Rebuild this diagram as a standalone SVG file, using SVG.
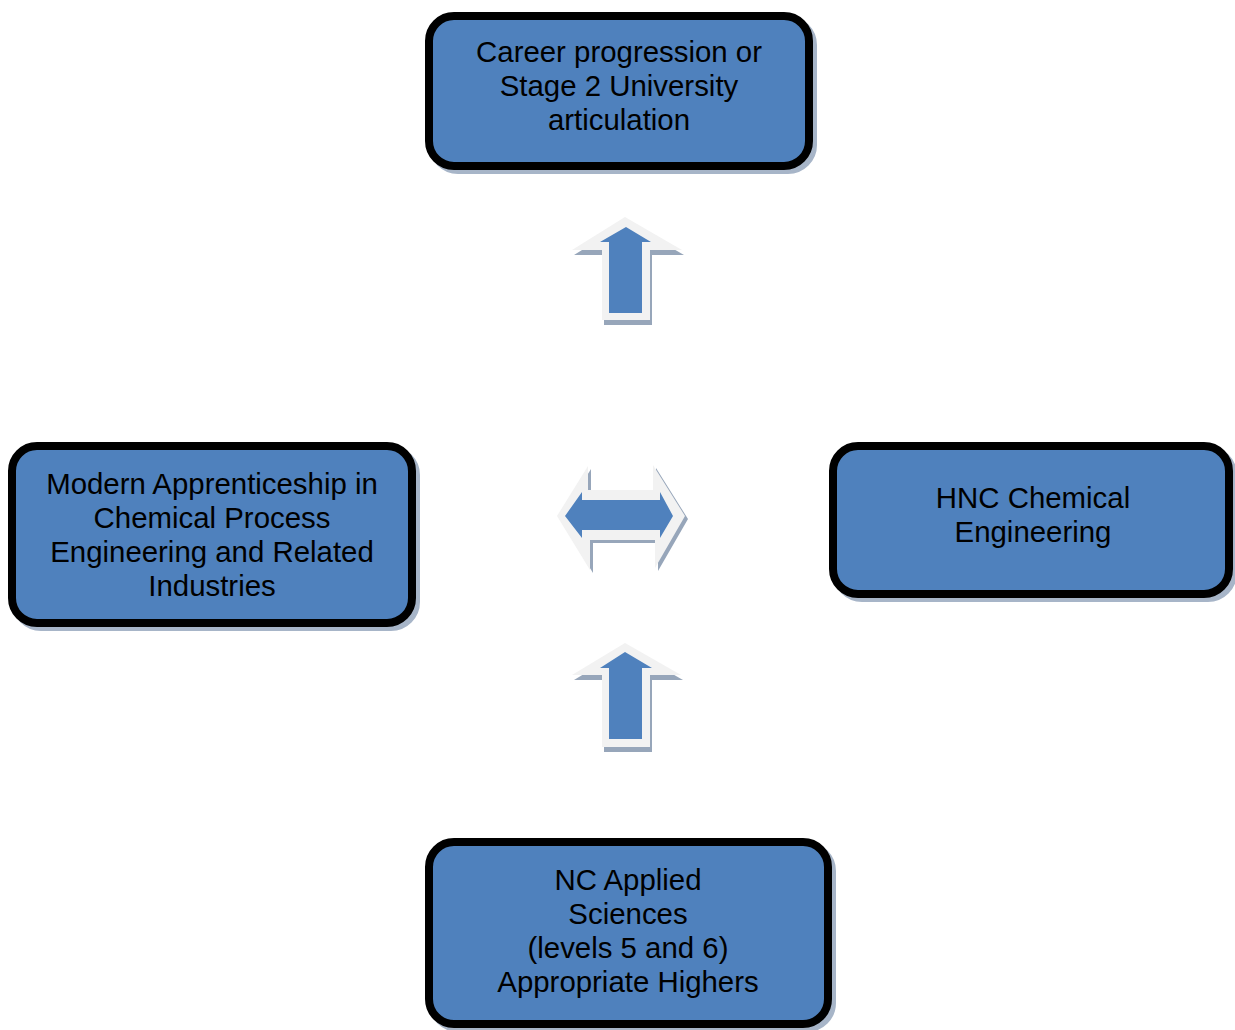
<svg xmlns="http://www.w3.org/2000/svg" width="1235" height="1030" viewBox="0 0 1235 1030">
<style>
.shadow{fill:#A7B5C8;stroke:#A7B5C8;stroke-width:8}
.box{fill:#4F81BD;stroke:#000;stroke-width:8}
.lbl{font-family:"Liberation Sans",Arial,sans-serif;font-size:29.4px;fill:#000;text-anchor:middle}
.ash{fill:#97A6BA}
.aout{fill:#F2F2F2}
.ain{fill:#4F81BD}
</style>
<rect width="1235" height="1030" fill="#fff"/>
<g id="connectors">
  <g id="arrow-up-top">
    <polygon class="ash" transform="translate(2,5)" points="625,217 682,250 650,250 650,320 602,320 602,250 572,250"/>
    <polygon class="aout" points="625,217 682,250 650,250 650,320 602,320 602,250 572,250"/>
    <polygon class="ain" points="626,227 651,242 642,242 642,313 609,313 609,242 600,242"/>
  </g>
  <g id="arrow-both">
    <polygon class="ash" transform="translate(3,3)" points="557,516 588,466 588,490 653,490 653,465 685,516 655,568 655,540 590,540 590,570"/>
    <polygon class="aout" points="557,516 588,466 588,490 653,490 653,465 685,516 655,568 655,540 590,540 590,570"/>
    <polygon class="ain" points="565,516 582,492 582,500 660,500 660,492 673,516 660,538 660,530 582,530 582,538"/>
  </g>
  <g id="arrow-up-bottom">
    <polygon class="ash" transform="translate(2,5)" points="625,643 681,675 650,675 650,747 602,747 602,675 572,675"/>
    <polygon class="aout" points="625,643 681,675 650,675 650,747 602,747 602,675 572,675"/>
    <polygon class="ain" points="625,652 652,668 642,668 642,739 609,739 609,668 600,668"/>
  </g>
</g>
<g id="node-career">
  <rect class="shadow" x="433" y="20" width="380" height="150" rx="25"/>
  <rect class="box" x="429" y="16" width="380" height="150" rx="25"/>
  <text class="lbl" x="619" y="62">Career progression or</text>
  <text class="lbl" x="619" y="96">Stage 2 University</text>
  <text class="lbl" x="619" y="130">articulation</text>
</g>
<g id="node-apprenticeship">
  <rect class="shadow" x="16" y="450" width="400" height="177" rx="25"/>
  <rect class="box" x="12" y="446" width="400" height="177" rx="25"/>
  <text class="lbl" x="212" y="494">Modern Apprenticeship in</text>
  <text class="lbl" x="212" y="528">Chemical Process</text>
  <text class="lbl" x="212" y="562">Engineering and Related</text>
  <text class="lbl" x="212" y="596">Industries</text>
</g>
<g id="node-hnc">
  <rect class="shadow" x="837" y="450" width="396" height="148" rx="25"/>
  <rect class="box" x="833" y="446" width="396" height="148" rx="25"/>
  <text class="lbl" x="1033" y="508">HNC Chemical</text>
  <text class="lbl" x="1033" y="542">Engineering</text>
</g>
<g id="node-nc">
  <rect class="shadow" x="433" y="846" width="399" height="182" rx="25"/>
  <rect class="box" x="429" y="842" width="399" height="182" rx="25"/>
  <text class="lbl" x="628" y="890">NC Applied</text>
  <text class="lbl" x="628" y="924">Sciences</text>
  <text class="lbl" x="628" y="958">(levels 5 and 6)</text>
  <text class="lbl" x="628" y="992">Appropriate Highers</text>
</g>
</svg>
